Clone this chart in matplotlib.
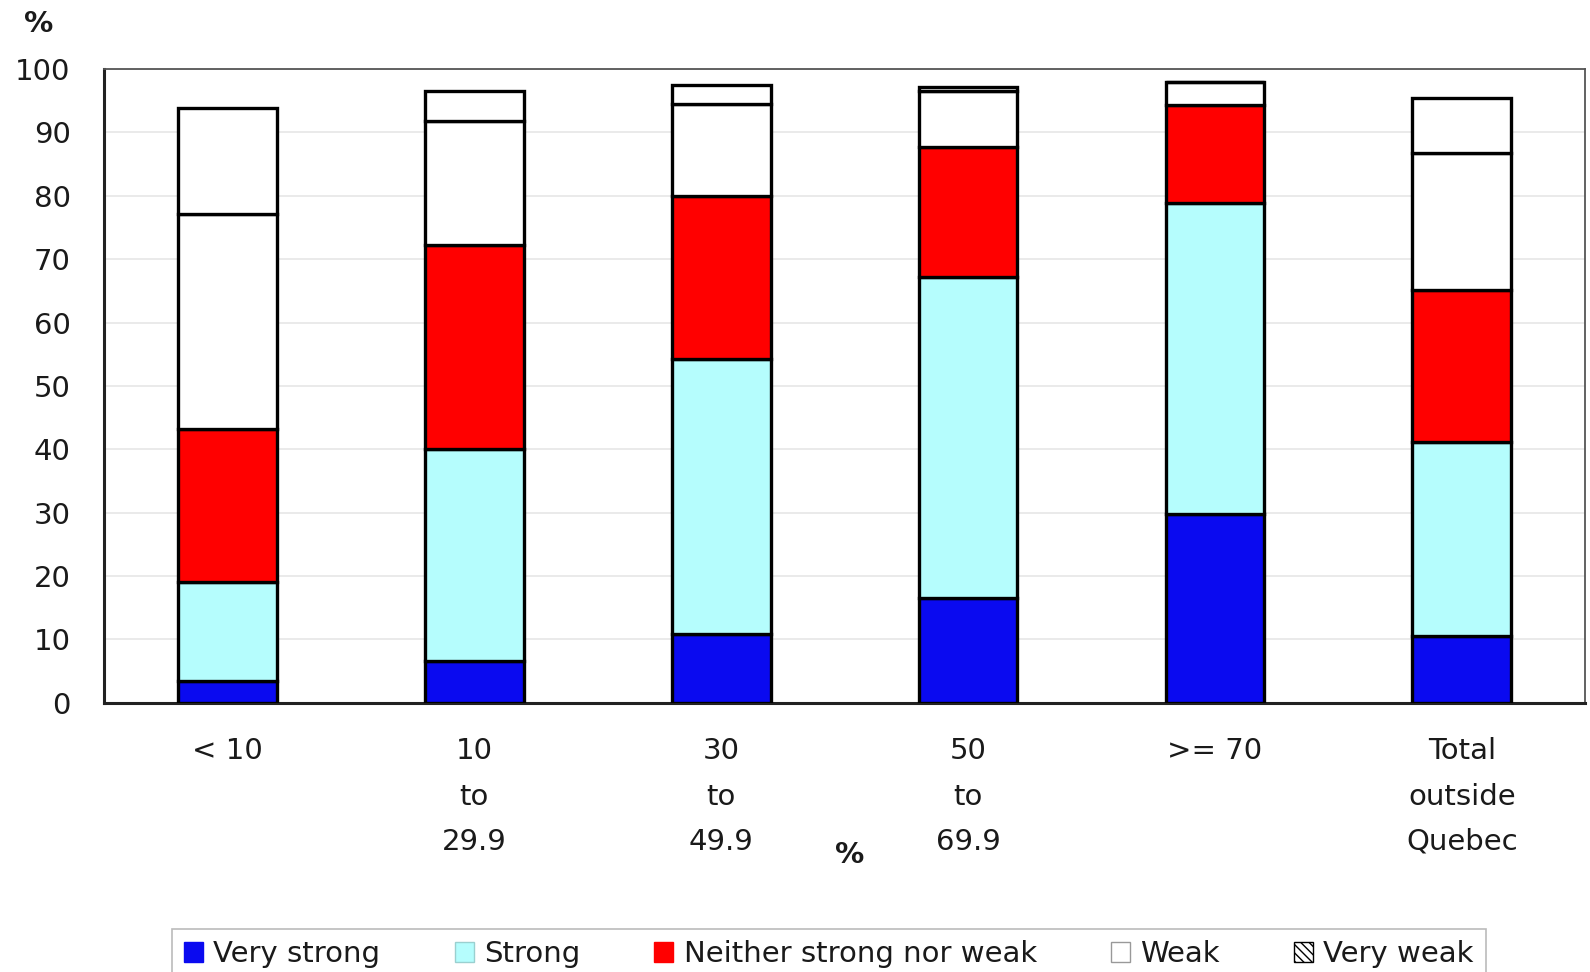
import matplotlib.pyplot as plt
import matplotlib.patches as mpatches
import numpy as np

plt.rcParams['font.family'] = ['DejaVu Sans']

# Groups along the x axis
grupos = ['< 10', '10\nto\n29.9', '30\nto\n49.9', '50\nto\n69.9', '>= 70',
          'Total\noutside\nQuebec']

# Share of each answer (%) per group
muy_fuerte = [3.5, 6.6, 10.9, 16.6, 29.8, 10.6]
fuerte = [15.5, 33.4, 43.3, 50.6, 49.1, 30.5]
neutro = [24.2, 32.2, 25.8, 20.5, 15.5, 24.0]
debil = [34.0, 19.6, 14.5, 8.8, 3.5, 21.6]
muy_debil = [16.7, 4.7, 3.0, 0.7, 0.0, 8.8]

series = [
    ('Very strong', muy_fuerte, '#0A0AF0'),
    ('Strong', fuerte, '#B5FDFD'),
    ('Neither strong nor weak', neutro, '#FF0000'),
    ('Weak', debil, 'white'),
    ('Very weak', muy_debil, 'white'),
]

TEXTO = '#1a1a1a'
TAM = 21

fig = plt.figure(figsize=(15.9, 9.72), dpi=100)
ax = fig.add_axes([0.0654, 0.277, 0.9316, 0.652])

x = np.arange(len(grupos))
base = np.zeros(len(grupos))
for nombre, valores, color in series:
    ax.bar(x, valores, width=0.4, bottom=base, color=color,
           edgecolor='black', linewidth=2.4, zorder=3)
    base += np.array(valores)

ax.set_xlim(-0.5, len(grupos) - 0.5)
ax.set_ylim(0, 100)
ax.set_yticks(range(0, 101, 10))
ax.grid(True, axis='y', color='#e6e6e6', linewidth=1.2, zorder=0)

ax.set_xticks(x)
ax.set_xticklabels(grupos, fontsize=TAM, linespacing=1.78, color=TEXTO)
ax.tick_params(axis='x', length=0, pad=25)
ax.tick_params(axis='y', length=0, pad=24, labelsize=TAM, labelcolor=TEXTO)

for lado in ['left', 'bottom']:
    ax.spines[lado].set_linewidth(2.2)
    ax.spines[lado].set_color('#222222')
for lado in ['top', 'right']:
    ax.spines[lado].set_linewidth(1.3)
    ax.spines[lado].set_color('#555555')

fig.text(38.5 / 1590, 1 - 24 / 972, '%', fontsize=TAM, ha='center',
         va='center', color=TEXTO, fontweight='bold')
fig.text(850 / 1590, 1 - 855 / 972, '%', fontsize=TAM, ha='center',
         va='center', color=TEXTO, fontweight='bold')

# Legend with square markers; "Very weak" shown hatched
manijas = [
    mpatches.Patch(facecolor='#0A0AF0', edgecolor='#0A0AF0'),
    mpatches.Patch(facecolor='#B5FDFD', edgecolor='#9ad0d0'),
    mpatches.Patch(facecolor='#FF0000', edgecolor='#FF0000'),
    mpatches.Patch(facecolor='white', edgecolor='#999999'),
    mpatches.Patch(facecolor='white', edgecolor='black', hatch='\\\\\\\\'),
]
leg = fig.legend(manijas, [s[0] for s in series], ncol=5, loc='upper center',
                 bbox_to_anchor=(829 / 1590, 1 - 914 / 972), fontsize=TAM,
                 frameon=True, fancybox=False, edgecolor='#aaaaaa',
                 handlelength=0.65, handleheight=0.65, handletextpad=0.35,
                 columnspacing=2.55, borderpad=0.4, labelcolor=TEXTO)
leg.get_frame().set_linewidth(1.2)

fig.savefig('out.png', dpi=100)
